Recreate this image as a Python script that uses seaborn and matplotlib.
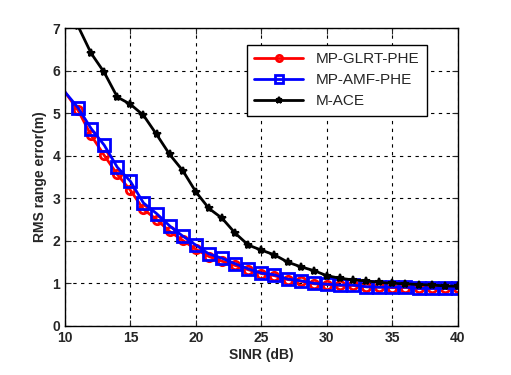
import numpy as np
import pandas as pd
import seaborn as sns
import matplotlib.pyplot as plt

sinr = list(range(10, 41))

glrt = [5.50, 5.07, 4.48, 4.01, 3.56, 3.19, 2.74, 2.50, 2.22, 2.01, 1.80,
        1.63, 1.52, 1.42, 1.32, 1.23, 1.18, 1.09, 1.05, 0.99, 0.97, 0.95,
        0.95, 0.92, 0.91, 0.90, 0.90, 0.88, 0.88, 0.88, 0.88]
amf = [5.50, 5.13, 4.64, 4.25, 3.73, 3.40, 2.89, 2.64, 2.35, 2.11, 1.90,
       1.69, 1.59, 1.46, 1.34, 1.24, 1.20, 1.10, 1.06, 1.00, 0.98, 0.96,
       0.96, 0.92, 0.91, 0.91, 0.91, 0.88, 0.88, 0.88, 0.88]
mace = [7.70, 7.05, 6.41, 5.96, 5.38, 5.21, 4.95, 4.50, 4.03, 3.65, 3.15,
        2.76, 2.53, 2.18, 1.90, 1.78, 1.67, 1.50, 1.39, 1.30, 1.18, 1.12,
        1.08, 1.06, 1.02, 1.00, 0.99, 0.97, 0.96, 0.94, 0.93]

names = ["MP-GLRT-PHE", "MP-AMF-PHE", "M-ACE"]

df = pd.DataFrame({
    "SINR": sinr * 3,
    "rms": glrt + amf + mace,
    "method": [n for n in names for _ in sinr],
})

sns.set_style("ticks")
plt.rcParams["font.family"] = ["Liberation Sans", "DejaVu Sans"]

fig = plt.figure(figsize=(5.11, 3.75), dpi=100)
ax = fig.add_axes([0.127, 0.131, 0.769, 0.794])

styles = {
    "MP-GLRT-PHE": dict(color="red", marker="o", ms=6, mfc="none", mew=2),
    "MP-AMF-PHE": dict(color="blue", marker="s", ms=8, mfc="none", mew=2),
    "M-ACE": dict(color="black", marker="*", ms=6, mfc="black", mew=1.5),
}
for name in names:
    st = styles[name]
    sns.lineplot(data=df[df["method"] == name], x="SINR", y="rms",
                 ax=ax, label=name, color=st["color"], marker=st["marker"],
                 markersize=st["ms"], markerfacecolor=st["mfc"],
                 markeredgecolor=st["color"], markeredgewidth=st["mew"],
                 linewidth=2, markevery=list(range(1, len(sinr))))

ax.set_xlim(10, 40)
ax.set_ylim(0, 7)
ax.set_xticks([10, 15, 20, 25, 30, 35, 40])
ax.set_yticks(range(0, 8))
ax.grid(True, color="black", linestyle=(0, (3, 4)), linewidth=0.8)
ax.tick_params(direction="in", labelsize=10, length=4, top=True, right=True)
for lbl in ax.get_xticklabels() + ax.get_yticklabels():
    lbl.set_fontweight("bold")
for s in ax.spines.values():
    s.set_color("black")
    s.set_linewidth(1)
ax.set_xlabel("SINR (dB)", fontsize=10, fontweight="bold", labelpad=2)
ax.set_ylabel("RMS range error(m)", fontsize=10, fontweight="bold", labelpad=4)

leg = ax.legend(loc="upper right", bbox_to_anchor=(0.94, 0.97),
                fontsize=11, fancybox=False, framealpha=1,
                edgecolor="black", handlelength=3.2, borderpad=0.5,
                labelspacing=0.45, markerscale=0.75)
leg.get_frame().set_linewidth(1)

fig.savefig("out.png", dpi=100)
